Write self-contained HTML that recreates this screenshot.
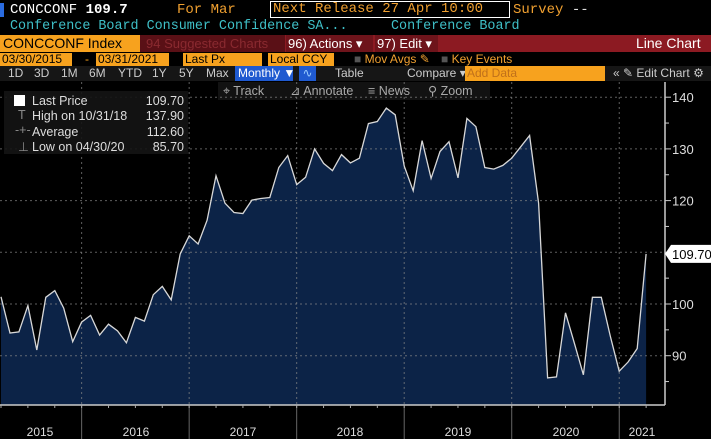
<!DOCTYPE html>
<html><head><meta charset="utf-8">
<style>
*{margin:0;padding:0;box-sizing:border-box}
body{width:711px;height:439px;background:#000;overflow:hidden;position:relative;font-family:"Liberation Sans",sans-serif;color:#ddd}
.a{position:absolute;white-space:nowrap}
.mono{font-family:"Liberation Mono",monospace;font-size:13px}
.s{font-size:12px}
</style></head><body>
<div class="a" style="left:0;top:3px;width:4px;height:14px;background:#2a6be0"></div>
<div class="a mono" style="left:10px;top:2px;color:#fff;font-size:14px">CONCCONF <b>109.7</b></div>
<div class="a mono" style="left:177px;top:2px;color:#f0a030;font-size:14px">For Mar</div>
<div class="a mono" style="left:270px;top:1px;width:240px;height:17px;border:1px solid #fff;color:#f0a030;padding-left:2px;font-size:14px;line-height:15px">Next Release 27 Apr 10:00</div>
<div class="a mono" style="left:513px;top:2px;color:#f0a030;font-size:14px">Survey <span style="color:#ddd">--</span></div>
<div class="a mono" style="left:10px;top:19px;color:#3fc0c8;font-size:13.4px">Conference Board Consumer Confidence SA...</div>
<div class="a mono" style="left:391px;top:19px;color:#3fc0c8;font-size:13.4px">Conference Board</div>

<div class="a" style="left:0;top:35px;width:711px;height:17px;background:#8c1a22"></div>
<div class="a" style="left:0;top:35px;width:140px;height:17px;background:#f7a21e;color:#000;font-size:14px;padding-left:3px;line-height:17px">CONCCONF Index</div>
<div class="a" style="left:140px;top:35px;width:145px;height:17px;background:#5a1016;color:#8a2a30;font-size:13px;padding-left:6px;line-height:17px">94 Suggested Charts</div>
<div class="a" style="left:286px;top:35px;width:87px;height:17px;background:#6e141b;color:#fff;font-size:13px;padding-left:2px;line-height:17px">96) Actions ▾</div>
<div class="a" style="left:375px;top:35px;width:63px;height:17px;background:#6e141b;color:#fff;font-size:13px;padding-left:2px;line-height:17px">97) Edit ▾</div>
<div class="a" style="left:636px;top:35px;color:#fff;font-size:14px;line-height:17px">Line Chart</div>

<div class="a s" style="left:0;top:53px;width:72px;height:13px;background:#f7a21e;color:#000;line-height:13px;padding-left:2px">03/30/2015</div>
<div class="a s" style="left:85px;top:53px;color:#f7a21e;line-height:13px">-</div>
<div class="a s" style="left:96px;top:53px;width:73px;height:13px;background:#f7a21e;color:#000;line-height:13px;padding-left:2px">03/31/2021</div>
<div class="a s" style="left:183px;top:53px;width:79px;height:13px;background:#f7a21e;color:#000;line-height:13px;padding-left:2px">Last Px</div>
<div class="a s" style="left:268px;top:53px;width:66px;height:13px;background:#f7a21e;color:#000;line-height:13px;padding-left:2px">Local CCY</div>
<div class="a s" style="left:354px;top:53px;color:#f0a030;line-height:13px"><span style="color:#555">■</span> Mov Avgs ✎</div>
<div class="a s" style="left:441px;top:53px;color:#f0a030;line-height:13px"><span style="color:#555">■</span> Key Events</div>

<div class="a s" style="left:0;top:66px;width:711px;height:15px;background:#161616;color:#ccc;line-height:15px;word-spacing:0">
<span style="position:absolute;left:8px">1D</span><span style="position:absolute;left:34px">3D</span><span style="position:absolute;left:61px">1M</span><span style="position:absolute;left:89px">6M</span><span style="position:absolute;left:118px">YTD</span><span style="position:absolute;left:152px">1Y</span><span style="position:absolute;left:179px">5Y</span><span style="position:absolute;left:206px">Max</span></div>
<div class="a s" style="left:235px;top:66px;width:58px;height:15px;background:#1f5ad0;color:#fff;line-height:15px;padding-left:3px">Monthly ▼</div>
<div class="a s" style="left:299px;top:66px;width:17px;height:15px;background:#1f5ad0;color:#9cf;line-height:15px;text-align:center">∿</div>
<div class="a s" style="left:335px;top:66px;color:#ccc;line-height:15px">Table</div>
<div class="a s" style="left:407px;top:66px;color:#ccc;line-height:15px">Compare ▾</div>
<div class="a s" style="left:465px;top:66px;width:140px;height:15px;background:#f7a21e;color:#c0701a;line-height:15px;padding-left:2px">Add Data</div>
<div class="a s" style="left:613px;top:66px;color:#ccc;line-height:15px">« ✎ Edit Chart ⚙</div>

<div class="a" style="left:218px;top:82px;width:272px;height:18px;background:#121212;color:#aaa;font-size:12.5px;line-height:18px">
<span style="position:absolute;left:5px">⌖ Track</span>
<span style="position:absolute;left:72px">⊿ Annotate</span>
<span style="position:absolute;left:150px">≡ News</span>
<span style="position:absolute;left:210px">⚲ Zoom</span>
</div>

<svg class="a" style="left:0;top:0" width="711" height="439" id="chart"></svg>

<div class="a" style="left:4px;top:91px;width:184px;height:63px;background:rgba(20,20,20,0.9);font-size:12.5px;color:#ddd">
<div class="a" style="left:28px;top:3px">Last Price</div><div class="a" style="right:4px;top:3px">109.70</div>
<div class="a" style="left:10px;top:4px;width:11px;height:11px;background:#fff"></div>
<div class="a" style="left:14px;top:17px;color:#888">T</div>
<div class="a" style="left:28px;top:18px">High on 10/31/18</div><div class="a" style="right:4px;top:18px">137.90</div>
<div class="a" style="left:11px;top:32px;color:#888">-+-</div>
<div class="a" style="left:28px;top:34px">Average</div><div class="a" style="right:4px;top:34px">112.60</div>
<div class="a" style="left:14px;top:48px;color:#888">⊥</div>
<div class="a" style="left:28px;top:49px">Low on 04/30/20</div><div class="a" style="right:4px;top:49px">85.70</div>
</div>

<script>
const years = ["2015","2016","2017","2018","2019","2020","2021"];
const yTicks = [90,100,110,120,130,140];
const values = [101.4,94.4,94.6,99.7,91.1,101.3,102.6,99.2,92.7,96.5,
97.8,94.0,96.1,94.8,92.5,97.4,96.7,101.8,103.4,100.8,109.7,113.2,
111.6,116.2,124.8,119.5,117.7,117.5,120.1,120.4,120.6,126.4,128.7,123.1,
124.5,130.0,127.2,125.8,128.9,127.3,128.2,134.9,135.3,137.9,136.6,126.7,
121.9,131.6,124.3,129.5,131.4,124.4,135.9,134.3,126.4,126.1,126.8,128.2,
130.4,132.6,119.5,85.7,85.9,98.3,92.4,86.3,101.3,101.3,93.8,87.0,
88.8,91.4,109.7];
const lastLabel = "109.70";
const NS="http://www.w3.org/2000/svg";
const svg=document.getElementById('chart');
const xOf=i=>1+i*8.96;
const yOf=v=>304-(v-100)*5.17;
const bottom=405, axisX=665;
function el(t,a){const e=document.createElementNS(NS,t);for(const k in a)e.setAttribute(k,a[k]);svg.appendChild(e);return e;}
let d="M"+xOf(0)+","+bottom;
values.forEach((v,i)=>{d+=" L"+xOf(i).toFixed(1)+","+yOf(v).toFixed(1);});
d+=" L"+xOf(values.length-1).toFixed(1)+","+bottom+" Z";
const area=el('path',{d:d,fill:'#0c2347'});


yTicks.forEach(t=>{
 const g=el('line',{x1:0,x2:axisX,y1:yOf(t),y2:yOf(t),stroke:'#888','stroke-dasharray':'2,3','stroke-width':1,opacity:0.7});
 
 
});
years.forEach((y,k)=>{
 if(k===0)return;
 const idx=9+12*(k-1);
 const x=xOf(idx);
 const g=el('line',{x1:x,x2:x,y1:82,y2:bottom,stroke:'#888','stroke-dasharray':'2,3','stroke-width':1,opacity:0.7});
 
 
 const s=el('line',{x1:x,x2:x,y1:bottom,y2:439,stroke:'#666','stroke-width':1});
 
 
});
let ld="";
values.forEach((v,i)=>{ld+=(i?" L":"M")+xOf(i).toFixed(1)+","+yOf(v).toFixed(1);});
const line=el('path',{d:ld,fill:'none',stroke:'#d8d8d8','stroke-width':1.3});


const xa=el('line',{x1:0,x2:axisX,y1:bottom,y2:bottom,stroke:'#ccc','stroke-width':1.5});


const ya=el('line',{x1:axisX,x2:axisX,y1:82,y2:bottom,stroke:'#ccc','stroke-width':1.5});


for(let i=0;i<values.length;i+=3){
 const t=el('line',{x1:xOf(i),x2:xOf(i),y1:bottom,y2:bottom+3,stroke:'#aaa'});
 
 
}
for(let v=85;v<=140;v+=5){
 const t=el('line',{x1:axisX,x2:axisX+(v%10?4:6),y1:yOf(v),y2:yOf(v),stroke:'#ccc'});
 
 
}
yTicks.forEach(t=>{
 const tx=el('text',{x:axisX+7,y:yOf(t)+5,fill:'#ddd','font-size':13,'font-family':'Liberation Sans, sans-serif'});
 tx.textContent=t;
 
 
});
const labelX=[40,136,243,350,458,566,642];
years.forEach((y,k)=>{
 const tx=el('text',{x:labelX[k],y:436,fill:'#ddd','font-size':12,'text-anchor':'middle','font-family':'Liberation Sans, sans-serif'});
 tx.textContent=y;
 
 
});
const ly=yOf(values[values.length-1]);
const tag=el('path',{d:`M${axisX},${ly} L${axisX+6},${ly-9} L711,${ly-9} L711,${ly+9} L${axisX+6},${ly+9} Z`,fill:'#fff'});


const tt=el('text',{x:axisX+7,y:ly+5,fill:'#000','font-size':13,'font-family':'Liberation Sans, sans-serif'});
tt.textContent=lastLabel;


</script>
</body></html>
